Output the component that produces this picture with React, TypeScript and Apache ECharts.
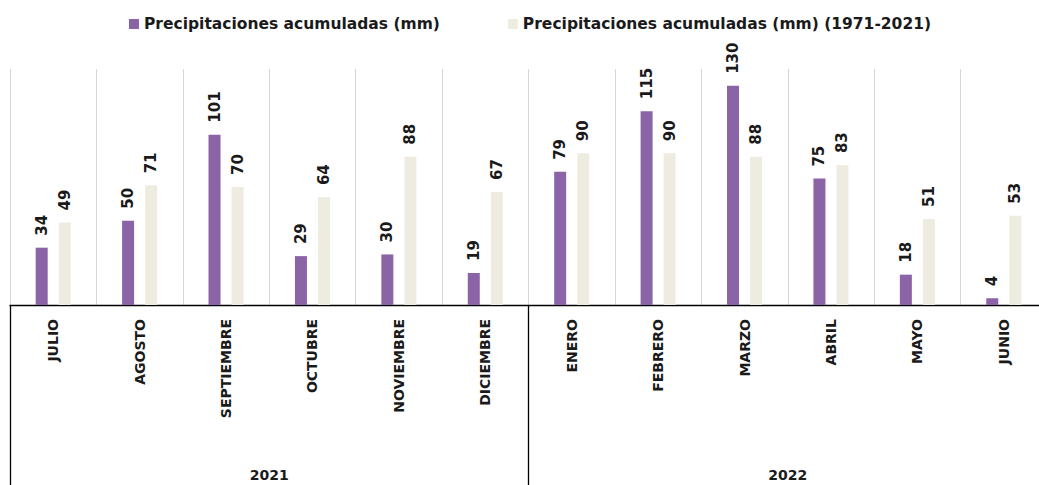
import React, { useEffect, useRef } from "react";
import * as echarts from "echarts";

const months = ["JULIO", "AGOSTO", "SEPTIEMBRE", "OCTUBRE", "NOVIEMBRE", "DICIEMBRE", "ENERO", "FEBRERO", "MARZO", "ABRIL", "MAYO", "JUNIO"];
const years = ["2021", "2022"];
const actual = [34, 50, 101, 29, 30, 19, 79, 115, 130, 75, 18, 4];
const normal = [49, 71, 70, 64, 88, 67, 90, 90, 88, 83, 51, 53];
const seriesNames = ["Precipitaciones acumuladas (mm)", "Precipitaciones acumuladas (mm) (1971-2021)"];

const FONT = "'DejaVu Sans', 'Noto Sans', sans-serif";

export default function App() {
  const ref = useRef<HTMLDivElement>(null);
  useEffect(() => {
    if (!ref.current) return;
    const chart = echarts.init(ref.current, undefined, { renderer: "svg" });
    const valueLabel = {
      show: true,
      position: "top",
      rotate: 90,
      align: "left",
      verticalAlign: "middle",
      distance: 12,
      fontFamily: FONT,
      fontWeight: "bold",
      fontSize: 15,
      color: "#1a1a1a",
    };
    chart.setOption({
      animation: false,
      backgroundColor: "#ffffff",
      legend: {
        top: 11,
        left: "center",
        itemWidth: 10,
        itemHeight: 10,
        itemGap: 68,
        icon: "rect",
        textStyle: { fontFamily: FONT, fontWeight: "bold", fontSize: 15.5, color: "#1a1a1a" },
        data: seriesNames,
      },
      grid: { left: 10, top: 69, width: 1037, height: 236, containLabel: false },
      xAxis: [
        {
          type: "category",
          data: months,
          axisLine: { show: true, lineStyle: { color: "#000", width: 1.3 } },
          axisTick: { show: false },
          splitLine: { show: true, lineStyle: { color: "#d6d6d6", width: 1 } },
          axisLabel: {
            rotate: 90,
            margin: 14,
            interval: 0,
            fontFamily: FONT,
            fontWeight: "bold",
            fontSize: 14,
            color: "#1a1a1a",
          },
        },
        {
          type: "category",
          data: years,
          position: "bottom",
          offset: 180,
          axisLine: { show: false },
          axisTick: { show: true, inside: true, length: 180, lineStyle: { color: "#000", width: 1.3 } },
          splitLine: { show: false },
          axisLabel: {
            inside: true,
            margin: 3,
            fontFamily: FONT,
            fontWeight: "bold",
            fontSize: 14,
            color: "#1a1a1a",
          },
        },
      ],
      yAxis: { type: "value", min: 0, max: 140, show: false, splitLine: { show: false } },
      series: [
        {
          name: seriesNames[0],
          type: "bar",
          data: actual,
          barWidth: 12,
          barGap: "92%",
          itemStyle: { color: "#8b64a7" },
          label: valueLabel,
        },
        {
          name: seriesNames[1],
          type: "bar",
          data: normal,
          barWidth: 12,
          itemStyle: { color: "#eeece1" },
          label: valueLabel,
        },
      ],
    });
    return () => chart.dispose();
  }, []);
  return <div ref={ref} style={{ position: "fixed", left: 0, top: 0, width: 1060, height: 485 }} />;
}
